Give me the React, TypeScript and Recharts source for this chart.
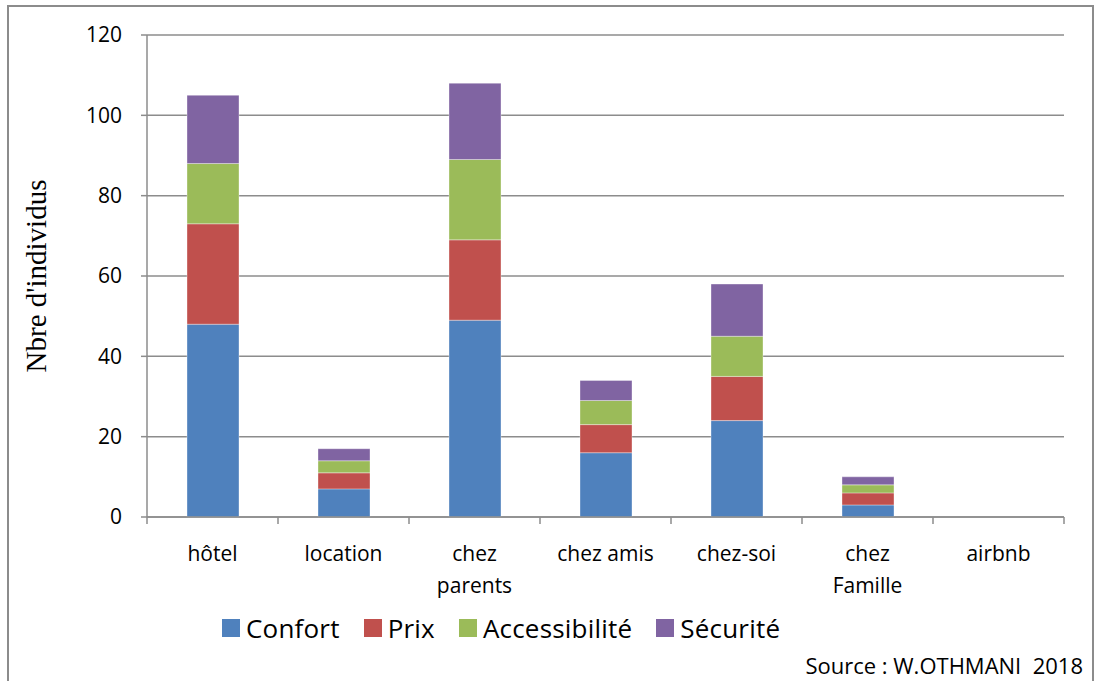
import React from 'react';
import { BarChart, Bar, XAxis, YAxis, CartesianGrid, Legend } from 'recharts';

const categories = ['hôtel', 'location', 'chez parents', 'chez amis', 'chez-soi', 'chez Famille', 'airbnb'];
const tickLines = [['hôtel'], ['location'], ['chez', 'parents'], ['chez amis'], ['chez-soi'], ['chez', 'Famille'], ['airbnb']];

const confort = [48, 7, 49, 16, 24, 3, 0];
const prix = [25, 4, 20, 7, 11, 3, 0];
const accessibilite = [15, 3, 20, 6, 10, 2, 0];
const securite = [17, 3, 19, 5, 13, 2, 0];

const yTicks = [0, 20, 40, 60, 80, 100, 120];

const SERIES = [
  { key: 'Confort', color: '#4F81BD' },
  { key: 'Prix', color: '#C0504D' },
  { key: 'Accessibilité', color: '#9BBB59' },
  { key: 'Sécurité', color: '#8064A2' },
];

const data = categories.map((name, i) => ({
  name,
  Confort: confort[i],
  Prix: prix[i],
  'Accessibilité': accessibilite[i],
  'Sécurité': securite[i],
}));

const GRAY = '#8c8c8c';
const SANS = '"Open Sans", sans-serif';

const XTick = (props: any) => {
  const { x, y, payload, index } = props;
  const half = payload.offset ?? 65.5;
  const lines = tickLines[index] || [String(payload.value)];
  return (
    <g>
      <line x1={x - half} x2={x - half} y1={y} y2={y + 7} stroke={GRAY} strokeWidth={1.5} />
      {index === categories.length - 1 && (
        <line x1={x + half} x2={x + half} y1={y} y2={y + 7} stroke={GRAY} strokeWidth={1.5} />
      )}
      {lines.map((l: string, i: number) => (
        <text key={i} x={x} y={y + 44 + i * 32} textAnchor="middle" fill="#000" fontSize={21} fontFamily={SANS}>
          {l}
        </text>
      ))}
    </g>
  );
};

const LegendContent = () => (
  <div style={{ display: 'flex', justifyContent: 'flex-start', alignItems: 'center', height: 40, fontFamily: SANS, fontSize: 26, color: '#000', paddingLeft: 222, letterSpacing: 0.2 }}>
    {SERIES.map((s) => (
      <div key={s.key} style={{ display: 'flex', alignItems: 'center', marginRight: 24 }}>
        <span style={{ width: 18, height: 18, background: s.color, display: 'inline-block', marginRight: 6 }} />
        <span>{s.key}</span>
      </div>
    ))}
  </div>
);

export default function App() {
  return (
    <div style={{ position: 'absolute', left: 0, top: 0, width: 1096, height: 681, background: '#fff', overflow: 'hidden' }}>
      <div style={{ position: 'absolute', left: 7, top: 5, width: 1083, height: 720, border: `2px solid ${GRAY}` }} />
      <div style={{ position: 'absolute', left: 0, top: 0 }}>
        <BarChart width={1096} height={681} data={data} margin={{ top: 35, right: 32, left: 0, bottom: 44 }} barSize={52}>
          <CartesianGrid vertical={false} stroke={GRAY} strokeWidth={1.5} />
          <XAxis
            dataKey="name"
            height={80}
            axisLine={{ stroke: GRAY, strokeWidth: 1.5 }}
            tickLine={false}
            tickSize={0}
            tickMargin={0}
            interval={0}
            tick={<XTick />}
          />
          <YAxis
            width={147}
            domain={[0, 120]}
            ticks={yTicks}
            interval={0}
            axisLine={{ stroke: GRAY, strokeWidth: 1.5 }}
            tickLine={{ stroke: GRAY, strokeWidth: 1.5 }}
            tickSize={6}
            tickMargin={19}
            tick={{ fill: '#000', fontSize: 21, fontFamily: SANS }}
            label={{
              value: "Nbre d'individus",
              angle: -90,
              position: 'insideLeft',
              offset: 0,
              dx: 36,
              style: { textAnchor: 'middle', fontFamily: '"Liberation Serif", serif', fontSize: 29, fill: '#000' },
            }}
          />
          <Legend verticalAlign="bottom" content={<LegendContent />} wrapperStyle={{ top: 608, left: 0, width: 1096 }} />
          {SERIES.map((s) => (
            <Bar key={s.key} dataKey={s.key} stackId="a" fill={s.color} stroke="#ffffff" strokeOpacity={0.35} strokeWidth={1} isAnimationActive={false} />
          ))}
        </BarChart>
      </div>
      <div style={{ position: 'absolute', right: 13, top: 650, fontFamily: SANS, fontSize: 22, color: '#000', whiteSpace: 'pre', textAlign: 'right' }}>
        {'Source : W.OTHMANI  2018'}
      </div>
    </div>
  );
}
